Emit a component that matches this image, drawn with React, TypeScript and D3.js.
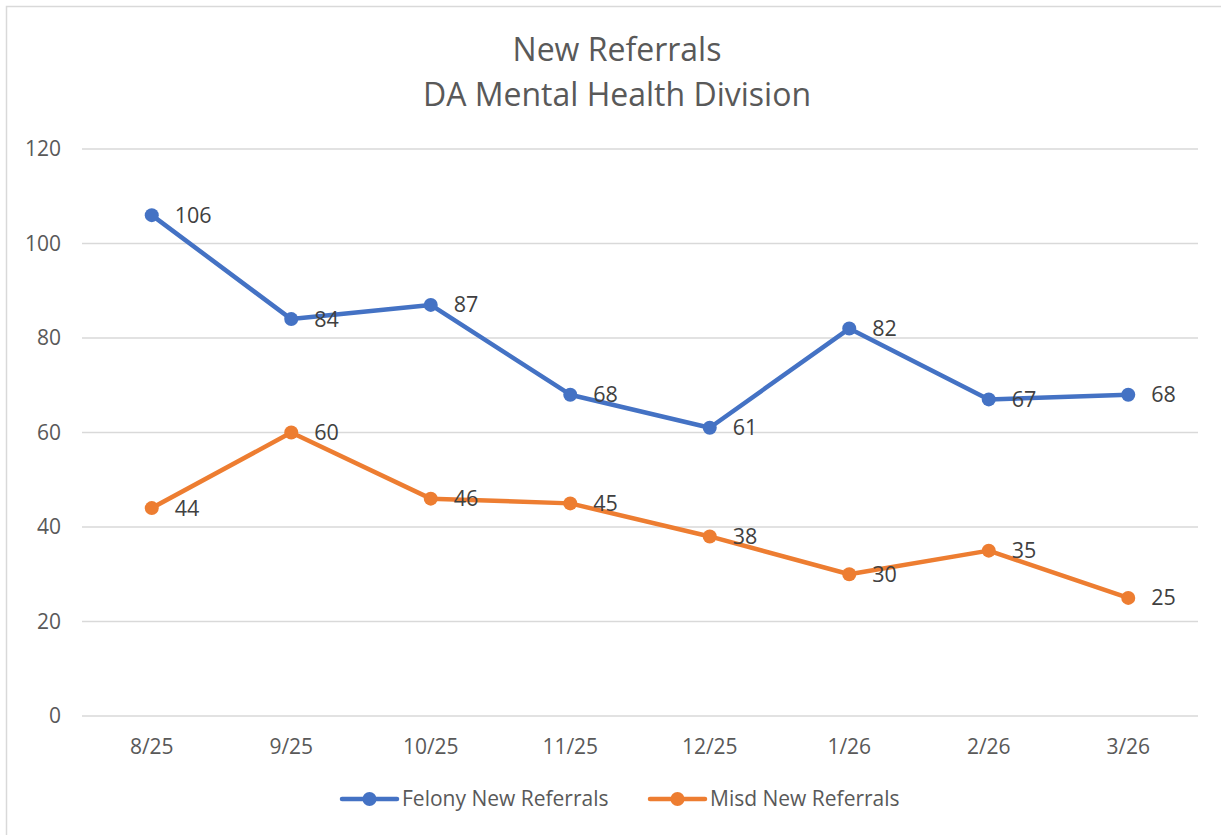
import React, { useEffect, useRef } from 'react';
import * as d3 from 'd3';

const months = ['8/25', '9/25', '10/25', '11/25', '12/25', '1/26', '2/26', '3/26'];
const felony = [106, 84, 87, 68, 61, 82, 67, 68];
const misd = [44, 60, 46, 45, 38, 30, 35, 25];
const yTicks = [0, 20, 40, 60, 80, 100, 120];

const series = [
  { name: 'Felony New Referrals', values: felony, color: '#4472C4' },
  { name: 'Misd New Referrals', values: misd, color: '#ED7D31' },
];

const font = '"Open Sans", sans-serif';

export default function App() {
  const svgRef = useRef<SVGSVGElement>(null);

  useEffect(() => {
    if (!svgRef.current) return;
    const svg = d3.select(svgRef.current);
    svg.selectAll('*').remove();

    const W = 1221, H = 835;
    const left = 82, right = 1198, top = 149, bottom = 716;

    svg.append('rect').attr('x', 6.5).attr('y', 6.5).attr('width', W + 20).attr('height', H + 20)
      .attr('fill', '#fff').attr('stroke', '#d9d9d9').attr('stroke-width', 1.5);

    const x = d3.scalePoint<string>().domain(months).range([left, right]).padding(0.5);
    const y = d3.scaleLinear().domain([0, 120]).range([bottom, top]);

    // gridlines
    svg.append('g').selectAll('line').data(yTicks).enter().append('line')
      .attr('x1', left).attr('x2', right)
      .attr('y1', d => y(d)).attr('y2', d => y(d))
      .attr('stroke', '#d9d9d9').attr('stroke-width', 1.5);

    // y labels
    svg.append('g').selectAll('text').data(yTicks).enter().append('text')
      .attr('x', 61).attr('y', d => y(d)).attr('dy', '0.35em')
      .attr('text-anchor', 'end').attr('font-family', font).attr('font-size', 21)
      .attr('fill', '#595959').text(d => d);

    // x labels
    svg.append('g').selectAll('text').data(months).enter().append('text')
      .attr('x', d => x(d)!).attr('y', 747).attr('dy', '0.35em')
      .attr('text-anchor', 'middle').attr('font-family', font).attr('font-size', 21)
      .attr('fill', '#595959').text(d => d);

    // title
    const title = svg.append('text').attr('x', 617).attr('text-anchor', 'middle')
      .attr('font-family', font).attr('font-size', 32).attr('fill', '#595959');
    title.append('tspan').attr('x', 617).attr('y', 61).text('New Referrals');
    title.append('tspan').attr('x', 617).attr('y', 106).text('DA Mental Health Division');

    const line = d3.line<number>().x((_, i) => x(months[i])!).y(d => y(d));

    series.forEach(s => {
      const g = svg.append('g');
      g.append('path').datum(s.values).attr('d', line).attr('fill', 'none')
        .attr('stroke', s.color).attr('stroke-width', 4.5).attr('stroke-linejoin', 'round');
      g.selectAll('circle').data(s.values).enter().append('circle')
        .attr('cx', (_, i) => x(months[i])!).attr('cy', d => y(d)).attr('r', 7)
        .attr('fill', s.color);
      g.selectAll('text').data(s.values).enter().append('text')
        .attr('x', (_, i) => x(months[i])! + 23).attr('y', d => y(d)).attr('dy', '0.35em')
        .attr('font-family', font).attr('font-size', 21.5).attr('fill', '#404040')
        .text(d => d);
    });

    // legend
    const legendX = [342, 650];
    series.forEach((s, i) => {
      const lg = svg.append('g').attr('transform', `translate(${legendX[i]},799)`);
      lg.append('line').attr('x1', 0).attr('x2', 55).attr('y1', 0).attr('y2', 0)
        .attr('stroke', s.color).attr('stroke-width', 4.5).attr('stroke-linecap', 'round');
      lg.append('circle').attr('cx', 27.5).attr('cy', 0).attr('r', 7).attr('fill', s.color);
      lg.append('text').attr('x', 60).attr('y', 0).attr('dy', '0.35em')
        .attr('font-family', font).attr('font-size', 21).attr('fill', '#595959').text(s.name);
    });
  }, []);

  return (
    <svg ref={svgRef} width={1221} height={835}
      style={{ position: 'absolute', left: 0, top: 0, background: '#fff' }} />
  );
}
